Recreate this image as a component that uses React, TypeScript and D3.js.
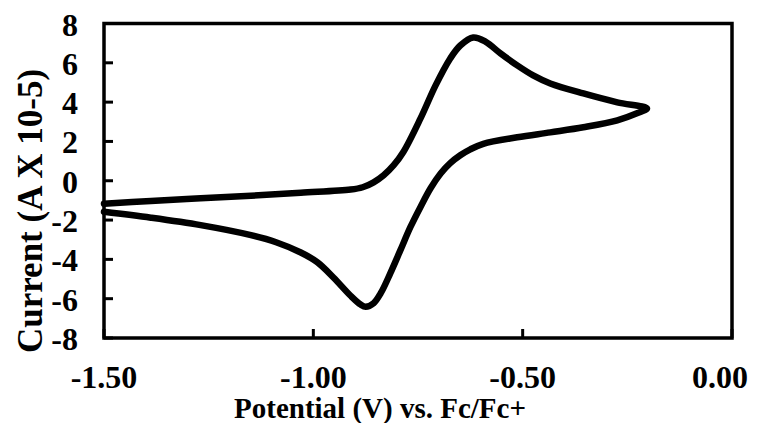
import React from 'react';
import * as d3 from 'd3';

const forwardPotential = [-1.5, -1.388, -1.269, -1.149, -1.03, -0.911, -0.882, -0.856, -0.832, -0.808, -0.785, -0.744, -0.708, -0.673, -0.649, -0.618, -0.589, -0.553, -0.513, -0.475, -0.434, -0.355, -0.274, -0.203];
const forwardCurrent = [-1.17, -1.03, -0.89, -0.76, -0.61, -0.45, -0.33, -0.08, 0.28, 0.79, 1.46, 3.17, 4.85, 6.22, 6.88, 7.29, 7.08, 6.48, 5.87, 5.36, 4.95, 4.44, 3.99, 3.68];
const reversePotential = [-0.227, -0.274, -0.355, -0.434, -0.513, -0.594, -0.625, -0.649, -0.673, -0.696, -0.72, -0.744, -0.768, -0.792, -0.816, -0.839, -0.856, -0.875, -0.887, -0.911, -0.952, -0.99, -1.03, -1.089, -1.149, -1.269, -1.388, -1.5];
const reverseCurrent = [3.43, 3.07, 2.72, 2.46, 2.21, 1.88, 1.6, 1.3, 0.9, 0.37, -0.38, -1.33, -2.35, -3.53, -4.7, -5.72, -6.23, -6.41, -6.3, -5.85, -4.92, -4.15, -3.65, -3.13, -2.77, -2.26, -1.88, -1.58];
const xTicks = [-1.5, -1.0, -0.5, 0.0];
const yTicks = [-8, -6, -4, -2, 0, 2, 4, 6, 8];
const xTitle = 'Potential (V) vs. Fc/Fc+';
const yTitle = 'Current (A X 10-5)';

const W = 761;
const H = 423;
const plot = { left: 104, right: 732, top: 23.5, bottom: 338 };
const font = '"Liberation Serif", "Times New Roman", serif';

const fmtX = (v: number) => v.toFixed(2);
const fmtY = (v: number) => String(v);

export default function App() {
  const x = d3.scaleLinear().domain([-1.5, 0]).range([plot.left, plot.right]);
  const y = d3.scaleLinear().domain([-8, 8]).range([plot.bottom, plot.top]);
  const pts: [number, number][] = [
    ...forwardPotential.map((p, i) => [p, forwardCurrent[i]] as [number, number]),
    ...reversePotential.map((p, i) => [p, reverseCurrent[i]] as [number, number]),
  ];
  const line = d3
    .line<[number, number]>()
    .x((d) => x(d[0]))
    .y((d) => y(d[1]))
    .curve(d3.curveCatmullRom.alpha(0.5));
  const tick = 9;
  return (
    <div style={{ position: 'fixed', left: 0, top: 0 }}>
      <svg width={W} height={H} style={{ display: 'block', background: '#fff' }}>
        <path d={line(pts) || ''} fill="none" stroke="#000" strokeWidth={6.5} strokeLinejoin="round" strokeLinecap="round" />
        <rect x={plot.left} y={plot.top} width={plot.right - plot.left} height={plot.bottom - plot.top} fill="none" stroke="#000" strokeWidth={3.5} />
        {yTicks.map((t) => (
          <g key={'y' + t}>
            <line x1={plot.left} x2={plot.left + tick} y1={y(t)} y2={y(t)} stroke="#000" strokeWidth={3} />
            <text x={78} y={y(t) + 12} textAnchor="end" fontFamily={font} fontWeight="bold" fontSize={32} fill="#000">
              {fmtY(t)}
            </text>
          </g>
        ))}
        {xTicks.map((t) => (
          <g key={'x' + t}>
            <line x1={x(t)} x2={x(t)} y1={plot.bottom} y2={plot.bottom - tick} stroke="#000" strokeWidth={3} />
            <text x={Math.min(x(t), W - 41)} y={388} textAnchor="middle" fontFamily={font} fontWeight="bold" fontSize={32} fill="#000">
              {fmtX(t)}
            </text>
          </g>
        ))}
        <text x={380} y={418} textAnchor="middle" fontFamily={font} fontWeight="bold" fontSize={29} fill="#000">
          {xTitle}
        </text>
        <text transform={`translate(42,211) rotate(-90)`} textAnchor="middle" fontFamily={font} fontWeight="bold" fontSize={35} fill="#000">
          {yTitle}
        </text>
      </svg>
    </div>
  );
}
